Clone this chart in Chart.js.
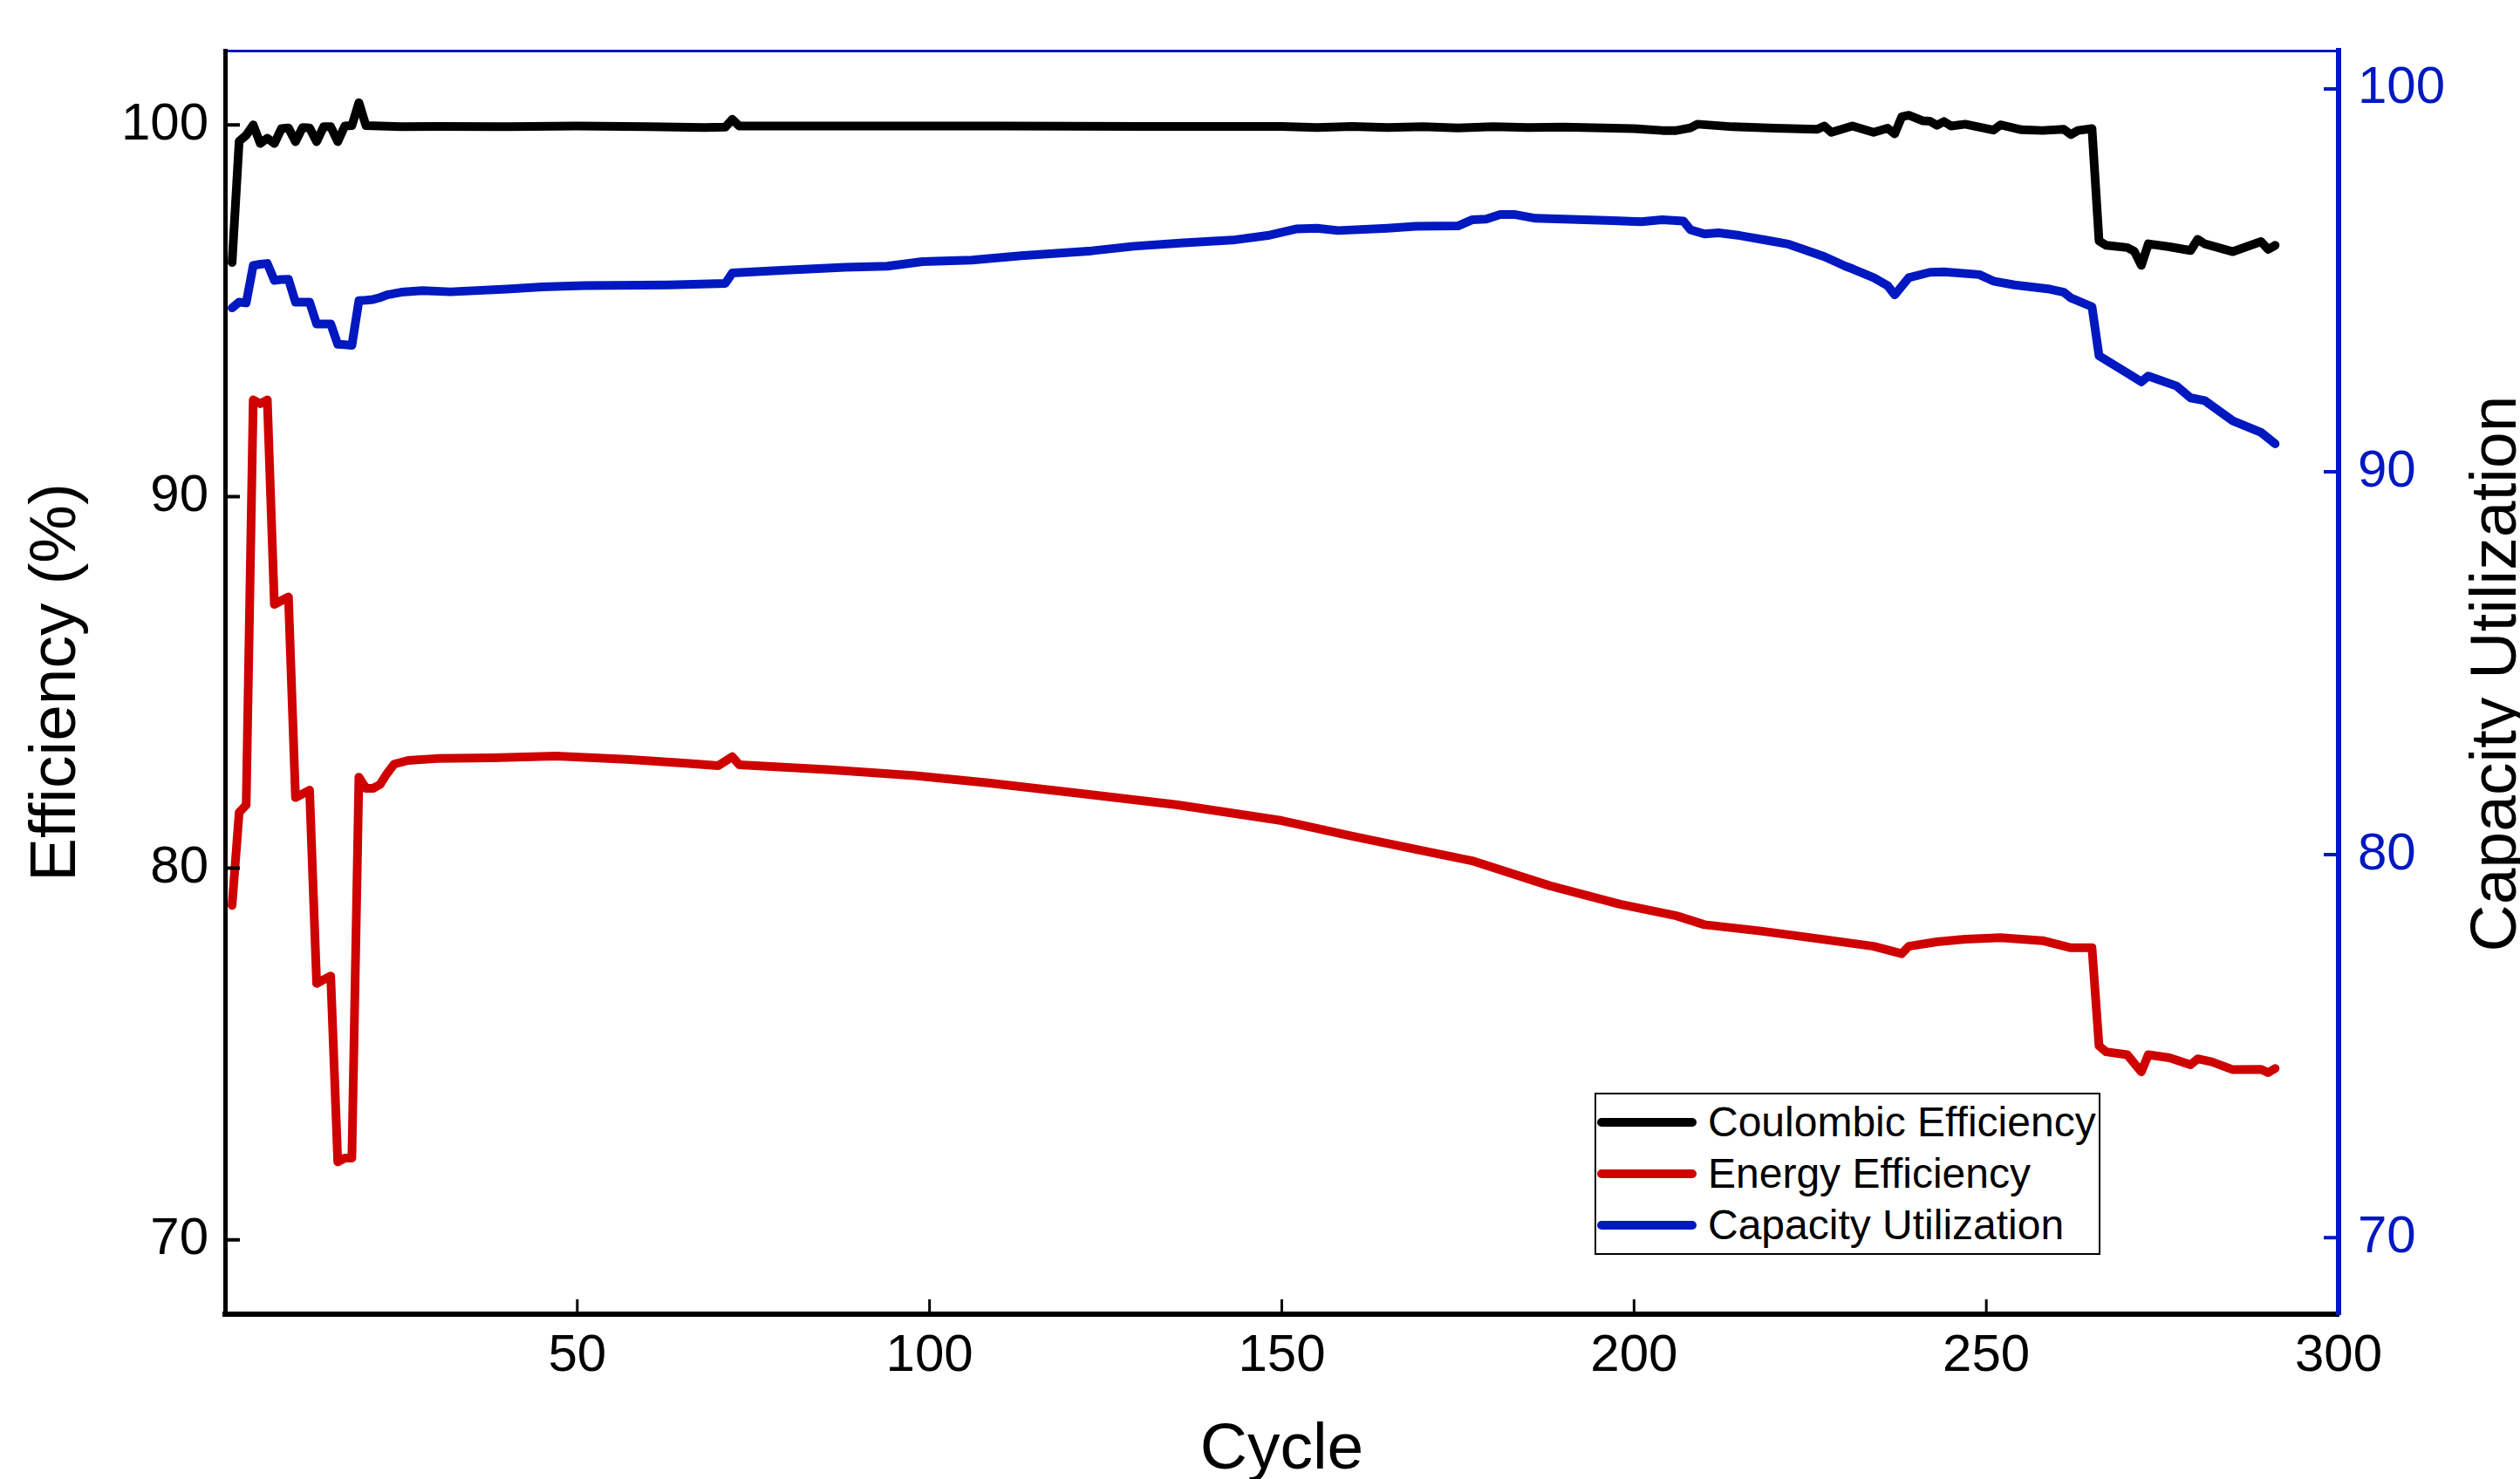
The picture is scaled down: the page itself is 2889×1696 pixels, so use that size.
<!DOCTYPE html>
<html>
<head>
<meta charset="utf-8">
<title>Efficiency vs Cycle</title>
<script src="https://cdn.jsdelivr.net/npm/chart.js@4.4.1/dist/chart.umd.min.js"></script>
<style>
    body { margin: 0; background: #fff; }
    #wrap { position: relative; width: 2889px; height: 1696px; overflow: hidden; }
    #legenda {
        position: absolute; left: 1828px; top: 1253px; width: 580px; height: 186px;
        box-sizing: border-box; border: 2px solid #000; background: #fff; padding-top: 2px;
        font-family: "Liberation Sans", Arial, sans-serif; font-size: 48px; color: #000;
    }
    .item { height: 59px; display: flex; align-items: center; white-space: nowrap; }
    .amostra { width: 114px; height: 10px; border-radius: 5px; margin-left: 1px; margin-right: 13px; }
</style>
</head>
<body>
<div id="wrap">
    <canvas id="grafico" width="2889" height="1696"></canvas>
    <div id="legenda"></div>
</div>
<script>
const fonte = '"Liberation Sans", Arial, sans-serif';
const azul = "#0018c0";
const vermelho = "#cf0000";

const nomes = ["Coulombic Efficiency", "Energy Efficiency", "Capacity Utilization"];

const xTicks = [50, 100, 150, 200, 250, 300];
const yLeftTicks = [70, 80, 90, 100];
const yRightTicks = [70, 80, 90, 100];

// Coulombic efficiency (%)
const ceCycles = [1, 2, 3, 4, 5, 6, 7, 8, 9, 10, 11, 12, 13, 14, 15, 16, 17, 18, 19, 20,
    25, 30, 40, 50, 60, 68, 71, 72, 73, 90, 110, 130, 150, 155, 160, 165, 170, 175, 180, 185, 190,
    200, 204, 206, 208, 209, 214, 220, 226, 227, 228, 231, 234, 236, 237, 238, 239, 241, 242,
    243, 244, 245, 247, 251, 252, 255, 258, 261, 262, 263, 265, 266, 267, 270, 271, 272, 273,
    276, 279, 280, 281, 285, 289, 290, 291];
const ceValues = [96.3, 99.56, 99.72, 100.0, 99.5, 99.64, 99.5, 99.9, 99.92, 99.55, 99.93, 99.92,
    99.55, 99.95, 99.95, 99.55, 99.97, 99.98, 100.6, 99.98,
    99.95, 99.96, 99.95, 99.97, 99.95, 99.93, 99.94, 100.15, 99.97, 99.97, 99.97, 99.96, 99.96,
    99.93, 99.96, 99.93, 99.95, 99.92, 99.95, 99.93, 99.94,
    99.9, 99.85, 99.85, 99.92, 100.02, 99.95, 99.91, 99.88, 99.97, 99.8, 99.97, 99.8, 99.91,
    99.76, 100.22, 100.26, 100.11, 100.1, 99.99, 100.09, 99.97, 100.02, 99.86, 100.0,
    99.87, 99.85, 99.88, 99.74, 99.85, 99.9, 96.88, 96.76, 96.7, 96.6, 96.22, 96.8,
    96.72, 96.62, 96.92, 96.8, 96.59, 96.86, 96.65, 96.76];

// Energy efficiency (%)
const eeCycles = [1, 2, 3, 4, 5, 6, 7, 8, 9, 10, 11, 12, 13, 14, 15, 16, 17, 18, 19, 20, 21, 22,
    23, 24, 26, 30, 38, 47, 57, 65, 70, 72, 73, 86, 98, 108, 121, 135, 150, 160, 169, 177, 188,
    198, 206, 210, 218, 227, 234, 238, 239, 243, 247, 252, 258, 262, 265, 266, 267, 270, 272,
    273, 276, 279, 280, 282, 285, 289, 290, 291];
const eeValues = [79.0, 81.5, 81.7, 92.6, 92.5, 92.6, 87.1, 87.2, 87.3, 81.9, 82.0, 82.1, 76.9,
    77.0, 77.1, 72.1, 72.2, 72.2, 82.45, 82.15, 82.15, 82.25,
    82.55, 82.8, 82.9, 82.95, 82.97, 83.02, 82.93, 82.83, 82.76, 83.0, 82.78, 82.65, 82.49,
    82.3, 82.02, 81.71, 81.28, 80.86, 80.51, 80.2, 79.53,
    79.03, 78.72, 78.48, 78.31, 78.08, 77.9, 77.7, 77.9, 78.02, 78.09, 78.13, 78.05, 77.86,
    77.86, 75.22, 75.06, 74.98, 74.52, 74.98, 74.9, 74.71, 74.87, 74.79, 74.58, 74.59, 74.5, 74.61];

// Capacity utilization (right axis)
const cuCycles = [1, 2, 3, 4, 5, 6, 7, 8, 9, 10, 11, 12, 13, 14, 15, 16, 17, 18, 19, 20, 21, 22,
    23, 25, 28, 32, 40, 45, 51, 63, 71, 72, 79, 88, 94, 99, 106, 113, 123, 129, 136, 143, 148,
    152, 155, 158, 165, 169, 175, 177, 179, 181, 183, 186, 190, 197, 201, 204, 207, 208, 210,
    212, 215, 219, 222, 227, 230, 231, 234, 236, 237, 239, 242, 244, 249, 251, 254, 259, 261,
    262, 265, 266, 270, 272, 273, 277, 279, 281, 285, 289, 291];
const cuValues = [94.28, 94.43, 94.41, 95.39, 95.42, 95.44, 95.0, 95.02, 95.03, 94.43, 94.43,
    94.43, 93.86, 93.86, 93.86, 93.33, 93.32, 93.3, 94.47, 94.48, 94.5, 94.55,
    94.62, 94.69, 94.73, 94.7, 94.77, 94.83, 94.86, 94.88, 94.92, 95.19, 95.26, 95.34, 95.37,
    95.49, 95.53, 95.64, 95.77, 95.89, 95.98, 96.05, 96.17,
    96.34, 96.36, 96.3, 96.36, 96.41, 96.42, 96.58, 96.6, 96.72, 96.72, 96.62, 96.6, 96.56,
    96.53, 96.58, 96.55, 96.32, 96.21,
    96.24, 96.17, 96.04, 95.94, 95.62, 95.37, 95.3, 95.07, 94.86, 94.62, 95.07, 95.21, 95.22,
    95.15, 94.98, 94.88, 94.77, 94.69,
    94.54, 94.31, 93.03, 92.58, 92.35, 92.5, 92.24, 91.93, 91.86, 91.33, 91.03, 90.73];

function pontos(ciclos, valores) {
    return ciclos.map((c, i) => ({ x: c, y: valores[i] }));
}

// ticks pointing inward and the reversed right-hand title
const moldura = {
    id: "moldura",
    afterDraw(chart) {
        const { ctx, chartArea: a, scales } = chart;
        const len = 17;

        ctx.save();
        ctx.lineCap = "butt";

        ctx.strokeStyle = "#000";
        ctx.lineWidth = 3;
        ctx.beginPath();
        for (const v of xTicks) {
            if (v >= scales.x.max) continue;
            const px = scales.x.getPixelForValue(v);
            ctx.moveTo(px, a.bottom);
            ctx.lineTo(px, a.bottom - len);
        }
        ctx.stroke();

        ctx.lineWidth = 4;
        ctx.beginPath();
        for (const v of yLeftTicks) {
            const py = scales.y.getPixelForValue(v);
            ctx.moveTo(a.left, py);
            ctx.lineTo(a.left + len, py);
        }
        ctx.stroke();

        ctx.strokeStyle = azul;
        ctx.beginPath();
        for (const v of yRightTicks) {
            const py = scales.y1.getPixelForValue(v);
            ctx.moveTo(a.right, py);
            ctx.lineTo(a.right - len, py);
        }
        ctx.stroke();

        ctx.translate(chart.width - 5, (a.top + a.bottom) / 2 - 10);
        ctx.rotate(-Math.PI / 2);
        ctx.fillStyle = "#000";
        ctx.font = "75px " + fonte;
        ctx.textAlign = "center";
        ctx.textBaseline = "alphabetic";
        ctx.fillText("Capacity Utilization", 0, 0);
        ctx.restore();
    },
};

const grafico = new Chart(document.getElementById("grafico"), {
    type: "line",
    data: {
        datasets: [
            { label: nomes[0], data: pontos(ceCycles, ceValues), borderColor: "#000", yAxisID: "y", xAxisID: "x" },
            { label: nomes[1], data: pontos(eeCycles, eeValues), borderColor: vermelho, yAxisID: "y", xAxisID: "x" },
            { label: nomes[2], data: pontos(cuCycles, cuValues), borderColor: azul, yAxisID: "y1", xAxisID: "x" },
        ],
    },
    options: {
        responsive: false,
        animation: false,
        devicePixelRatio: 1,
        layout: { padding: { top: 53, left: 0, right: 0, bottom: 0 } },
        elements: {
            point: { radius: 0 },
            line: { tension: 0, borderWidth: 10, borderCapStyle: "round", borderJoinStyle: "round" },
        },
        plugins: { legend: { display: false }, tooltip: { enabled: false } },
        scales: {
            x: {
                type: "linear",
                position: "bottom",
                min: 0,
                max: 300,
                afterBuildTicks: (s) => { s.ticks = xTicks.map((v) => ({ value: v })); },
                afterFit: (s) => { s.height = 189; },
                grid: { display: false, drawTicks: false },
                border: { display: true, color: "#000", width: 6 },
                ticks: { color: "#000", font: { family: fonte, size: 60 }, padding: 12, maxRotation: 0, autoSkip: false },
                title: { display: true, text: "Cycle", color: "#000", font: { family: fonte, size: 75 }, padding: { top: 0, bottom: -12 } },
            },
            xTop: {
                type: "linear",
                position: "top",
                min: 0,
                max: 300,
                afterFit: (s) => { s.height = 0; },
                grid: { display: false, drawTicks: false },
                border: { display: true, color: azul, width: 3 },
                ticks: { display: false },
            },
            y: {
                position: "left",
                min: 68,
                max: 102,
                afterBuildTicks: (s) => { s.ticks = yLeftTicks.map((v) => ({ value: v })); },
                afterFit: (s) => { s.width = 258; },
                grid: { display: false, drawTicks: false },
                border: { display: true, color: "#000", width: 5 },
                ticks: { color: "#000", font: { family: fonte, size: 60 }, padding: 19 },
                title: { display: true, text: "Efficiency (%)", color: "#000", font: { family: fonte, size: 75 }, padding: { top: 20, bottom: 0 } },
            },
            y1: {
                position: "right",
                min: 68,
                max: 101,
                afterBuildTicks: (s) => { s.ticks = yRightTicks.map((v) => ({ value: v })); },
                afterFit: (s) => { s.width = 208; },
                grid: { display: false, drawTicks: false },
                border: { display: true, color: azul, width: 6 },
                ticks: { color: azul, font: { family: fonte, size: 60 }, padding: 22 },
            },
        },
    },
    plugins: [moldura],
});

// legend as html, built from the datasets
const legenda = document.getElementById("legenda");
grafico.data.datasets.forEach((ds) => {
    const item = document.createElement("div");
    item.className = "item";
    const amostra = document.createElement("span");
    amostra.className = "amostra";
    amostra.style.background = ds.borderColor;
    const texto = document.createElement("span");
    texto.textContent = ds.label;
    item.appendChild(amostra);
    item.appendChild(texto);
    legenda.appendChild(item);
});
</script>
</body>
</html>
